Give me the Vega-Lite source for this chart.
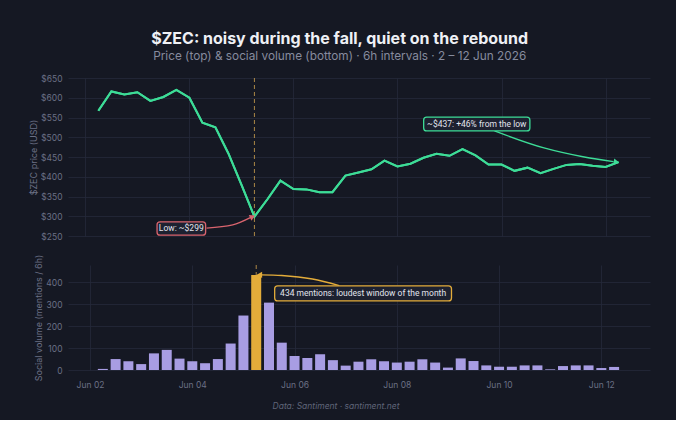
{
  "$schema": "https://vega.github.io/schema/vega-lite/v6.json",
  "background": "#151823",
  "padding": {"left": 29, "top": 31, "right": 26, "bottom": 10},
  "title": {
    "text": "$ZEC: noisy during the fall, quiet on the rebound",
    "subtitle": "Price (top) & social volume (bottom) · 6h intervals · 2 – 12 Jun 2026",
    "anchor": "middle",
    "fontSize": 16,
    "fontWeight": "bold",
    "font": "Inter",
    "color": "#eef0f5",
    "subtitleFont": "Inter",
    "subtitleFontSize": 11.8,
    "subtitleColor": "#868b9e",
    "subtitlePadding": 4,
    "offset": 11
  },
  "datasets": {
    "series": [
      {"t": "2026-06-02T06:00", "price": 567, "volume": 5},
      {"t": "2026-06-02T12:00", "price": 616, "volume": 50},
      {"t": "2026-06-02T18:00", "price": 608, "volume": 40},
      {"t": "2026-06-03T00:00", "price": 614, "volume": 27},
      {"t": "2026-06-03T06:00", "price": 592, "volume": 76},
      {"t": "2026-06-03T12:00", "price": 602, "volume": 92},
      {"t": "2026-06-03T18:00", "price": 620, "volume": 52},
      {"t": "2026-06-04T00:00", "price": 600, "volume": 40},
      {"t": "2026-06-04T06:00", "price": 537, "volume": 31},
      {"t": "2026-06-04T12:00", "price": 525, "volume": 50},
      {"t": "2026-06-04T18:00", "price": 459, "volume": 121},
      {"t": "2026-06-05T00:00", "price": 380, "volume": 249},
      {"t": "2026-06-05T06:00", "price": 299, "volume": 434},
      {"t": "2026-06-05T12:00", "price": 343, "volume": 308},
      {"t": "2026-06-05T18:00", "price": 390, "volume": 125},
      {"t": "2026-06-06T00:00", "price": 369, "volume": 64},
      {"t": "2026-06-06T06:00", "price": 368, "volume": 55},
      {"t": "2026-06-06T12:00", "price": 361, "volume": 72},
      {"t": "2026-06-06T18:00", "price": 361, "volume": 45},
      {"t": "2026-06-07T00:00", "price": 403, "volume": 20},
      {"t": "2026-06-07T06:00", "price": 411, "volume": 38},
      {"t": "2026-06-07T12:00", "price": 419, "volume": 49},
      {"t": "2026-06-07T18:00", "price": 441, "volume": 40},
      {"t": "2026-06-08T00:00", "price": 426, "volume": 34},
      {"t": "2026-06-08T06:00", "price": 433, "volume": 38},
      {"t": "2026-06-08T12:00", "price": 448, "volume": 49},
      {"t": "2026-06-08T18:00", "price": 458, "volume": 34},
      {"t": "2026-06-09T00:00", "price": 453, "volume": 11},
      {"t": "2026-06-09T06:00", "price": 470, "volume": 53},
      {"t": "2026-06-09T12:00", "price": 454, "volume": 41},
      {"t": "2026-06-09T18:00", "price": 431, "volume": 21},
      {"t": "2026-06-10T00:00", "price": 431, "volume": 15},
      {"t": "2026-06-10T06:00", "price": 415, "volume": 15},
      {"t": "2026-06-10T12:00", "price": 423, "volume": 21},
      {"t": "2026-06-10T18:00", "price": 409, "volume": 21},
      {"t": "2026-06-11T00:00", "price": 420, "volume": 3},
      {"t": "2026-06-11T06:00", "price": 430, "volume": 18},
      {"t": "2026-06-11T12:00", "price": 432, "volume": 21},
      {"t": "2026-06-11T18:00", "price": 428, "volume": 21},
      {"t": "2026-06-12T00:00", "price": 425, "volume": 9},
      {"t": "2026-06-12T06:00", "price": 437, "volume": 14}
    ],
    "marker": [{"t": "2026-06-05T06:00"}],
    "arrows": [
      {"id": "low", "t": "2026-06-04T07:55", "v": 270},
      {"id": "low", "t": "2026-06-04T20:00", "v": 278},
      {"id": "low", "t": "2026-06-05T04:20", "v": 297},
      {"id": "high", "t": "2026-06-09T20:45", "v": 516},
      {"id": "high", "t": "2026-06-10T19:35", "v": 473},
      {"id": "high", "t": "2026-06-11T14:10", "v": 450},
      {"id": "high", "t": "2026-06-12T03:40", "v": 438},
      {"id": "peak", "t": "2026-06-05T08:10", "v": 435},
      {"id": "peak", "t": "2026-06-05T18:00", "v": 432},
      {"id": "peak", "t": "2026-06-06T08:25", "v": 416},
      {"id": "peak", "t": "2026-06-06T21:00", "v": 386}
    ],
    "heads": [
      {"id": "low", "t": "2026-06-05T05:10", "v": 299},
      {"id": "high", "t": "2026-06-12T05:00", "v": 437},
      {"id": "peak", "t": "2026-06-05T07:30", "v": 435}
    ],
    "boxes": [
      {"id": "low", "t1": "2026-06-03T09:05", "t2": "2026-06-04T07:30", "v1": 252, "v2": 286, "tc": "2026-06-03T20:15", "vc": 269, "label": "Low: ~$299"},
      {"id": "high", "t1": "2026-06-08T12:05", "t2": "2026-06-10T13:05", "v1": 516, "v2": 551, "tc": "2026-06-09T12:35", "vc": 533, "label": "~$437: +46% from the low"},
      {"id": "peak", "t1": "2026-06-05T14:40", "t2": "2026-06-09T01:40", "v1": 316, "v2": 385, "tc": "2026-06-07T08:10", "vc": 350, "label": "434 mentions: loudest window of the month"}
    ]
  },
  "spacing": 13,
  "resolve": {"scale": {"y": "independent", "color": "independent", "stroke": "independent"}},
  "config": {
    "view": {"stroke": null},
    "font": "Inter",
    "axis": {
      "domain": false,
      "ticks": false,
      "gridColor": "#252a3a",
      "gridWidth": 0.8,
      "labelColor": "#6b7085",
      "labelFontSize": 8.5,
      "labelFont": "Inter",
      "labelOverlap": false,
      "labelFlush": false,
      "titleColor": "#6b7085",
      "titleFontSize": 9,
      "titleFontWeight": "normal",
      "titleFont": "Inter"
    }
  },
  "vconcat": [
    {
      "width": 582,
      "height": 158,
      "layer": [
        {
          "data": {"name": "series"},
          "mark": {"type": "line", "color": "#3ddc97", "strokeWidth": 2},
          "encoding": {
            "x": {
              "field": "t", "type": "temporal",
              "scale": {"domain": [{"year": 2026, "month": 6, "date": 1, "hours": 16}, {"year": 2026, "month": 6, "date": 12, "hours": 20, "minutes": 30}]},
              "axis": {"title": null, "labels": false, "grid": true, "tickCount": 20,
                "values": [{"year": 2026, "month": 6, "date": 2}, {"year": 2026, "month": 6, "date": 4}, {"year": 2026, "month": 6, "date": 6}, {"year": 2026, "month": 6, "date": 8}, {"year": 2026, "month": 6, "date": 10}, {"year": 2026, "month": 6, "date": 12}]}
            },
            "y": {
              "field": "price", "type": "quantitative",
              "scale": {"domain": [250, 650], "nice": false, "zero": false},
              "axis": {"title": "$ZEC price (USD)", "values": [250, 300, 350, 400, 450, 500, 550, 600, 650], "tickCount": 20, "labelOverlap": false, "format": "$,d", "labelPadding": 6, "titlePadding": 2}
            }
          }
        },
        {
          "data": {"name": "marker"},
          "mark": {"type": "rule", "color": "#d1a24f", "strokeDash": [4, 3], "strokeWidth": 1, "opacity": 0.8},
          "encoding": {"x": {"field": "t", "type": "temporal"}}
        },
        {
          "data": {"name": "series"},
          "mark": {"type": "line", "color": "#3ddc97", "strokeWidth": 2},
          "encoding": {
            "x": {"field": "t", "type": "temporal"},
            "y": {"field": "price", "type": "quantitative"}
          }
        },
        {
          "data": {"name": "arrows"},
          "transform": [{"filter": "datum.id !== 'peak'"}],
          "mark": {"type": "line", "interpolate": "monotone", "strokeWidth": 1.3},
          "encoding": {
            "x": {"field": "t", "type": "temporal"},
            "y": {"field": "v", "type": "quantitative"},
            "detail": {"field": "id"},
            "color": {"field": "id", "type": "nominal", "scale": {"domain": ["low", "high", "peak"], "range": ["#d9646e", "#3ddc97", "#e3ac3a"]}, "legend": null}
          }
        },
        {
          "data": {"name": "heads"},
          "transform": [{"filter": "datum.id === 'low'"}],
          "mark": {"type": "point", "shape": "triangle-right", "filled": true, "size": 40, "angle": -25, "opacity": 1},
          "encoding": {
            "x": {"field": "t", "type": "temporal"},
            "y": {"field": "v", "type": "quantitative"},
            "color": {"field": "id", "type": "nominal", "scale": {"domain": ["low", "high", "peak"], "range": ["#d9646e", "#3ddc97", "#e3ac3a"]}, "legend": null}
          }
        },
        {
          "data": {"name": "heads"},
          "transform": [{"filter": "datum.id === 'high'"}],
          "mark": {"type": "point", "shape": "triangle-right", "filled": true, "size": 40, "angle": 10, "opacity": 1},
          "encoding": {
            "x": {"field": "t", "type": "temporal"},
            "y": {"field": "v", "type": "quantitative"},
            "color": {"field": "id", "type": "nominal", "scale": {"domain": ["low", "high", "peak"], "range": ["#d9646e", "#3ddc97", "#e3ac3a"]}, "legend": null}
          }
        },
        {
          "data": {"name": "boxes"},
          "transform": [{"filter": "datum.id !== 'peak'"}],
          "mark": {"type": "rect", "fill": "#1d2130", "strokeWidth": 1.3, "cornerRadius": 3},
          "encoding": {
            "x": {"field": "t1", "type": "temporal"},
            "x2": {"field": "t2"},
            "y": {"field": "v1", "type": "quantitative"},
            "y2": {"field": "v2"},
            "stroke": {"field": "id", "type": "nominal", "scale": {"domain": ["low", "high", "peak"], "range": ["#d9646e", "#3ddc97", "#e3ac3a"]}, "legend": null}
          }
        },
        {
          "data": {"name": "boxes"},
          "transform": [{"filter": "datum.id !== 'peak'"}],
          "mark": {"type": "text", "color": "#e2e4ec", "fontSize": 8.5, "font": "Roboto", "align": "center", "baseline": "middle"},
          "encoding": {
            "x": {"field": "tc", "type": "temporal"},
            "y": {"field": "vc", "type": "quantitative"},
            "text": {"field": "label"}
          }
        }
      ]
    },
    {
      "width": 582,
      "height": 105,
      "title": {
        "text": "Data: Santiment · santiment.net",
        "orient": "bottom",
        "anchor": "middle",
        "fontSize": 8.5,
        "fontStyle": "italic",
        "fontWeight": "normal",
        "color": "#5f6478",
        "font": "Inter",
        "offset": 13,
        "dx": -23
      },
      "layer": [
        {
          "data": {"name": "series"},
          "mark": {"type": "bar", "size": 10, "opacity": 0},
          "encoding": {
            "x": {
              "field": "t", "type": "temporal",
              "scale": {"domain": [{"year": 2026, "month": 6, "date": 1, "hours": 16}, {"year": 2026, "month": 6, "date": 12, "hours": 20, "minutes": 30}]},
              "axis": {"title": null, "format": "%b %d", "labelPadding": 10, "grid": true, "tickCount": 20,
                "values": [{"year": 2026, "month": 6, "date": 2}, {"year": 2026, "month": 6, "date": 4}, {"year": 2026, "month": 6, "date": 6}, {"year": 2026, "month": 6, "date": 8}, {"year": 2026, "month": 6, "date": 10}, {"year": 2026, "month": 6, "date": 12}]}
            },
            "y": {
              "field": "volume", "type": "quantitative",
              "scale": {"domain": [0, 480], "nice": false},
              "axis": {"title": "Social volume (mentions / 6h)", "values": [0, 100, 200, 300, 400], "tickCount": 20, "labelOverlap": false, "labelPadding": 6, "titlePadding": 2}
            }
          }
        },
        {
          "data": {"name": "marker"},
          "mark": {"type": "rule", "color": "#d1a24f", "strokeDash": [4, 3], "strokeWidth": 1, "opacity": 0.8},
          "encoding": {"x": {"field": "t", "type": "temporal"}}
        },
        {
          "data": {"name": "series"},
          "transform": [{"joinaggregate": [{"op": "max", "field": "volume", "as": "maxv"}]}],
          "mark": {"type": "bar", "size": 10},
          "encoding": {
            "x": {"field": "t", "type": "temporal"},
            "y": {"field": "volume", "type": "quantitative"},
            "color": {"condition": {"test": "datum.volume === datum.maxv", "value": "#e3ac3a"}, "value": "#a89de3"}
          }
        },
        {
          "data": {"name": "arrows"},
          "transform": [{"filter": "datum.id === 'peak'"}],
          "mark": {"type": "line", "interpolate": "monotone", "strokeWidth": 1.3, "color": "#e3ac3a"},
          "encoding": {
            "x": {"field": "t", "type": "temporal"},
            "y": {"field": "v", "type": "quantitative"}
          }
        },
        {
          "data": {"name": "heads"},
          "transform": [{"filter": "datum.id === 'peak'"}],
          "mark": {"type": "point", "shape": "triangle-left", "filled": true, "size": 40, "color": "#e3ac3a", "opacity": 1},
          "encoding": {
            "x": {"field": "t", "type": "temporal"},
            "y": {"field": "v", "type": "quantitative"}
          }
        },
        {
          "data": {"name": "boxes"},
          "transform": [{"filter": "datum.id === 'peak'"}],
          "mark": {"type": "rect", "fill": "#1d2130", "stroke": "#e3ac3a", "strokeWidth": 1.3, "cornerRadius": 3},
          "encoding": {
            "x": {"field": "t1", "type": "temporal"},
            "x2": {"field": "t2"},
            "y": {"field": "v1", "type": "quantitative"},
            "y2": {"field": "v2"}
          }
        },
        {
          "data": {"name": "boxes"},
          "transform": [{"filter": "datum.id === 'peak'"}],
          "mark": {"type": "text", "color": "#e2e4ec", "fontSize": 8.5, "font": "Roboto", "align": "center", "baseline": "middle"},
          "encoding": {
            "x": {"field": "tc", "type": "temporal"},
            "y": {"field": "vc", "type": "quantitative"},
            "text": {"field": "label"}
          }
        }
      ]
    }
  ]
}
